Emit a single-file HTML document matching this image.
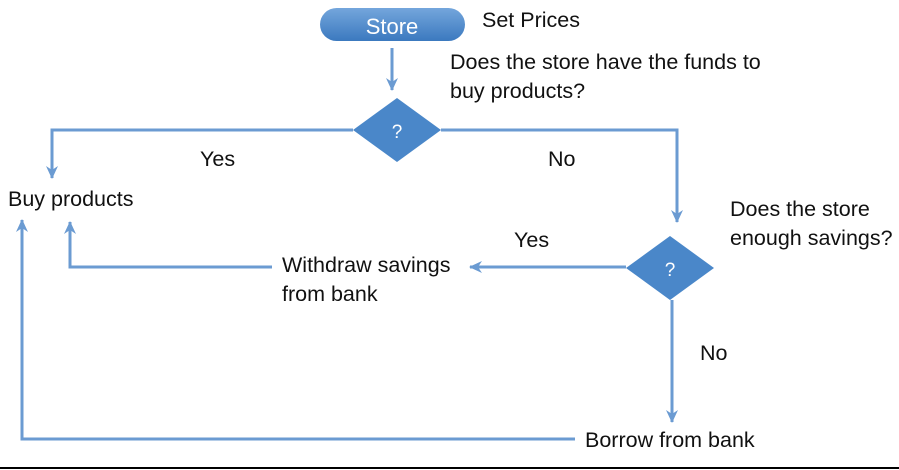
<!DOCTYPE html>
<html><head><style>
body{margin:0;width:899px;height:470px;background:#fff;overflow:hidden;position:relative;font-family:"Liberation Sans",sans-serif;}
.t{position:absolute;font-size:21.5px;color:#111;line-height:29px;white-space:nowrap;}
</style></head><body>
<svg width="899" height="470" style="position:absolute;left:0;top:0">
<defs>
<linearGradient id="g" x1="0" y1="0" x2="0" y2="1"><stop offset="0" stop-color="#74a6dc"/><stop offset="1" stop-color="#3b79bf"/></linearGradient>
<marker id="a" markerWidth="16" markerHeight="16" refX="13" refY="8" orient="auto" markerUnits="userSpaceOnUse"><path d="M1,2 L14,8 L1,14 L5,8 Z" fill="#6b9bd2"/></marker>
</defs>
<g fill="none" stroke="#6b9bd2" stroke-width="3">
<line x1="392" y1="48" x2="392" y2="90" marker-end="url(#a)"/>
<polyline points="353,130 52,130 52,178" marker-end="url(#a)"/>
<polyline points="441,130 677,130 677,222" marker-end="url(#a)"/>
<line x1="626" y1="267" x2="470" y2="267" marker-end="url(#a)"/>
<polyline points="272,267 70,267 70,222" marker-end="url(#a)"/>
<line x1="672" y1="300" x2="672" y2="422" marker-end="url(#a)"/>
<polyline points="575,439 22,439 22,220" marker-end="url(#a)"/>
</g>
<rect x="320" y="8" width="145" height="33" rx="16.5" fill="url(#g)"/>
<polygon points="397,98 441,130 397,162 353,130" fill="#4a87c9"/>
<polygon points="670,236 714,268 670,300 626,268" fill="#4a87c9"/>
<text x="392" y="34" fill="#fff" font-size="22" text-anchor="middle" font-family="Liberation Sans">Store</text>
<text x="397" y="138" fill="#fff" font-size="19" text-anchor="middle" font-family="Liberation Sans">?</text>
<text x="670" y="276" fill="#fff" font-size="19" text-anchor="middle" font-family="Liberation Sans">?</text>
<line x1="0" y1="468" x2="899" y2="468" stroke="#000" stroke-width="2"/>
</svg>
<div class="t" style="left:482px;top:6px">Set Prices</div>
<div class="t" style="left:450px;top:48px">Does the store have the funds to<br>buy products?</div>
<div class="t" style="left:200px;top:145px">Yes</div>
<div class="t" style="left:548px;top:145px">No</div>
<div class="t" style="left:8px;top:185px">Buy products</div>
<div class="t" style="left:730px;top:195px">Does the store<br>enough savings?</div>
<div class="t" style="left:514px;top:226px">Yes</div>
<div class="t" style="left:282px;top:251px">Withdraw savings<br>from bank</div>
<div class="t" style="left:700px;top:339px">No</div>
<div class="t" style="left:585px;top:426px">Borrow from bank</div>
</body></html>
